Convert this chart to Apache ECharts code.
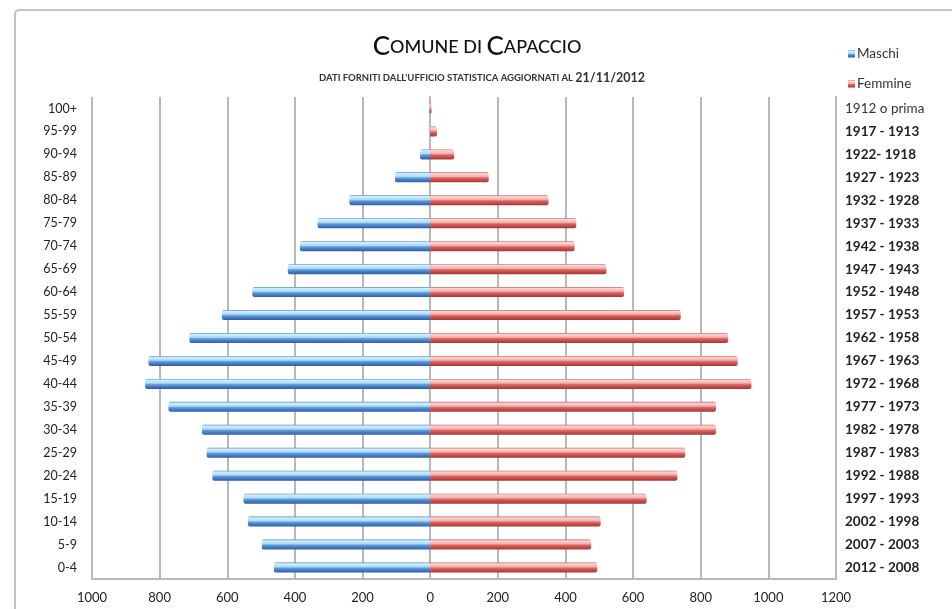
<!DOCTYPE html>
<html>
<head>
<meta charset="utf-8">
<script src="https://cdn.jsdelivr.net/npm/echarts@6/dist/echarts.min.js"></script>
<style>
  html, body { margin: 0; padding: 0; background: #ffffff; }
  #chart { width: 952px; height: 609px; }
</style>
</head>
<body>
<div id="chart"></div>
<script>
// Age classes, youngest first (bottom of the pyramid)
const ageClasses = ['0-4', '5-9', '10-14', '15-19', '20-24', '25-29', '30-34', '35-39', '40-44', '45-49',
  '50-54', '55-59', '60-64', '65-69', '70-74', '75-79', '80-84', '85-89', '90-94', '95-99', '100+'];

// Birth-year ranges matching each age class
const birthYears = ['2012 - 2008', '2007 - 2003', '2002 - 1998', '1997 - 1993', '1992 - 1988', '1987 - 1983',
  '1982 - 1978', '1977 - 1973', '1972 - 1968', '1967 - 1963', '1962 - 1958', '1957 - 1953', '1952 - 1948',
  '1947 - 1943', '1942 - 1938', '1937 - 1933', '1932 - 1928', '1927 - 1923', '1922- 1918', '1917 - 1913',
  '1912 o prima'];

// Residents by sex
const maschi = [462, 498, 539, 552, 644, 661, 675, 774, 843, 833,
  712, 616, 526, 421, 385, 333, 239, 104, 30, 0, 2];
const femmine = [494, 476, 504, 640, 731, 754, 845, 845, 950, 909,
  881, 741, 573, 521, 427, 432, 350, 173, 71, 20, 4];

// Axis ticks
const xMin = -1000, xMax = 1200, xStep = 200;

const FONT = 'Lato, "Open Sans", sans-serif';
const GRID_GRAY = '#b8b8b8';

const blueFill = new echarts.graphic.LinearGradient(0, 0, 0, 1, [
  { offset: 0, color: '#4f82c6' },
  { offset: 0.12, color: '#d2f0fd' },
  { offset: 0.42, color: '#aadcf6' },
  { offset: 0.58, color: '#5d97d9' },
  { offset: 1, color: '#2d5ca6' }
]);
const redFill = new echarts.graphic.LinearGradient(0, 0, 0, 1, [
  { offset: 0, color: '#c65a57' },
  { offset: 0.12, color: '#fcd6d5' },
  { offset: 0.42, color: '#f3aeac' },
  { offset: 0.58, color: '#d9625f' },
  { offset: 1, color: '#a63532' }
]);

const chart = echarts.init(document.getElementById('chart'), null, { renderer: 'canvas' });

chart.setOption({
  backgroundColor: '#ffffff',
  animation: false,
  title: [
    {
      text: '{b|C}{s|OMUNE DI }{b|C}{s|APACCIO}',
      left: 472, top: 29, textAlign: 'center',
      textStyle: {
        rich: {
          b: { fontFamily: FONT, fontSize: 26, color: '#111111', fontWeight: 500 },
          s: { fontFamily: FONT, fontSize: 18, color: '#111111', fontWeight: 500 }
        }
      }
    },
    {
      text: "{a|DATI FORNITI DALL'UFFICIO STATISTICA AGGIORNATI AL }{d|21/11/2012}",
      left: 477, top: 66, textAlign: 'center',
      textStyle: {
        rich: {
          a: { fontFamily: FONT, fontSize: 9.5, color: '#333333' },
          d: { fontFamily: FONT, fontSize: 12.5, color: '#333333' }
        }
      }
    }
  ],
  legend: {
    orient: 'vertical',
    left: 843, top: 42,
    itemWidth: 7, itemHeight: 7, itemGap: 16,
    icon: 'rect',
    textStyle: { fontFamily: FONT, fontSize: 13.5, color: '#333333', padding: [0, 0, 0, -3] },
    data: ['Maschi', 'Femmine']
  },
  grid: { left: 92, right: 116, top: 97, bottom: 30, containLabel: false },
  xAxis: {
    type: 'value',
    min: xMin, max: xMax, interval: xStep,
    axisLine: { show: true, lineStyle: { color: GRID_GRAY, width: 2 } },
    axisTick: { show: false },
    splitLine: { show: true, lineStyle: { color: GRID_GRAY, width: 2 } },
    axisLabel: {
      fontFamily: FONT, fontSize: 13, color: '#222222', margin: 12,
      formatter: v => String(Math.abs(v))
    }
  },
  yAxis: [
    {
      type: 'category', position: 'left',
      data: ageClasses,
      axisLine: { show: true, lineStyle: { color: GRID_GRAY, width: 2 } },
      axisTick: { show: false },
      axisLabel: { fontFamily: FONT, fontSize: 12.5, color: '#222222', margin: 15 }
    },
    {
      type: 'category', position: 'right',
      data: birthYears,
      axisLine: { show: true, lineStyle: { color: GRID_GRAY, width: 2 } },
      axisTick: { show: false },
      axisLabel: {
        fontFamily: FONT, fontSize: 13.5, color: '#222222', margin: 9,
        formatter: (v, i) => (i === birthYears.length - 1 ? '{n|' + v + '}' : '{k|' + v + '}'),
        rich: {
          k: { fontFamily: FONT, fontSize: 13.5, fontWeight: 'bold', color: '#222222' },
          n: { fontFamily: FONT, fontSize: 13.5, fontWeight: 'normal', color: '#333333' }
        }
      }
    }
  ],
  series: [
    {
      name: 'Maschi', type: 'bar', stack: 'pop', yAxisIndex: 0,
      barWidth: 10,
      itemStyle: { color: blueFill, borderRadius: [2, 0, 0, 2] },
      data: maschi.map(v => -v)
    },
    {
      name: 'Femmine', type: 'bar', stack: 'pop', yAxisIndex: 0,
      barWidth: 10,
      itemStyle: { color: redFill, borderRadius: [0, 2, 2, 0] },
      data: femmine
    }
  ],
  graphic: [
    {
      type: 'rect', silent: true, z: -10,
      shape: { x: 15, y: 10, width: 960, height: 620, r: 4 },
      style: { fill: 'none', stroke: '#c4c4c4', lineWidth: 2 }
    }
  ]
});
</script>
</body>
</html>
